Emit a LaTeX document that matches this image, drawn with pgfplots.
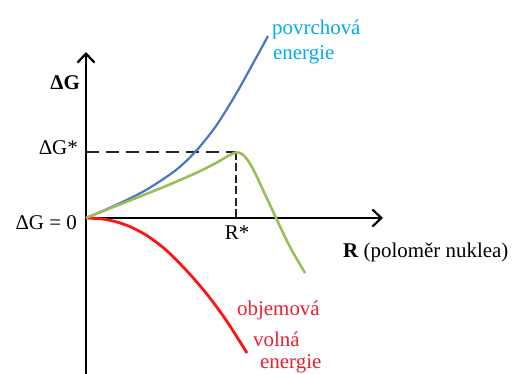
\documentclass[border=0pt]{standalone}
\usepackage{pgfplots}
\pgfplotsset{compat=1.18}
\usepackage{fontspec}
\setmainfont{Liberation Serif}
\usetikzlibrary{arrows.meta}

\definecolor{surfblue}{RGB}{72,118,196}
\definecolor{surftext}{RGB}{0,172,236}
\definecolor{volred}{RGB}{255,20,20}
\definecolor{voltext}{RGB}{235,30,50}
\definecolor{totgreen}{RGB}{155,190,90}

\tikzset{lbl/.style={font=\fontsize{21}{25}\selectfont, inner sep=0pt}}

\begin{document}
\begin{tikzpicture}
\useasboundingbox (0,0) rectangle (519bp,374bp);
\begin{axis}[
  at={(0,0)}, anchor=south west,
  scale only axis, width=519bp, height=374bp,
  xmin=-86, xmax=433, ymin=-156, ymax=218,
  hide axis, clip=false,
]
% coordinate axes
\draw[line width=2.2bp, -{Straight Barb[length=9bp,width=17bp,line width=2.2bp]}]
  (axis cs:0,-160) -- (axis cs:0,166);
\draw[line width=2.2bp, -{Straight Barb[length=9bp,width=17bp,line width=2.2bp]}]
  (axis cs:0,0) -- (axis cs:297,0);

% critical values
\addplot[black!85, line width=1.6bp, dash pattern=on 13bp off 7bp]
  coordinates {(0,66) (150,66)};
\addplot[black!85, line width=2.8bp, dash pattern=on 8bp off 3.5bp]
  coordinates {(150,66) (150,0)};

% surface energy
\addplot[surfblue, line width=2.2bp, smooth] coordinates {
  (0,0) (30,13) (60,28) (90,48) (110,67) (130,92) (150,124) (170,160) (182,182)};
% volume free energy
\addplot[volred, line width=2.8bp, smooth] coordinates {
  (0,0) (20,-1.5) (40,-7) (60,-17) (80,-32) (100,-52) (120,-75) (140,-102) (161,-135)};
% total
\addplot[totgreen, line width=2.6bp, smooth] coordinates {
  (0,0) (40,16) (80,32) (110,45) (130,55) (142,62) (150,65.5) (156,64)
  (163,56) (170,43) (177,28) (184,13) (191,-2) (204,-29) (219,-55)};

% labels
\node[lbl, anchor=east] at (axis cs:-6,135) {\textbf{ΔG}};
\node[lbl, anchor=east] at (axis cs:-8,70) {ΔG*};
\node[lbl, anchor=east] at (axis cs:-9,-5) {ΔG = 0};
\node[lbl] at (axis cs:151,-15) {R*};
\node[lbl, anchor=west] at (axis cs:257,-34) {\textbf{R} (poloměr nuklea)};
\node[lbl, anchor=west, text=surftext] at (axis cs:186,189) {povrchová};
\node[lbl, anchor=west, text=surftext] at (axis cs:187,163) {energie};
\node[lbl, anchor=west, text=voltext] at (axis cs:151,-92) {objemová};
\node[lbl, anchor=west, text=voltext] at (axis cs:167,-121) {volná};
\node[lbl, anchor=west, text=voltext] at (axis cs:174,-146) {energie};
\end{axis}
\end{tikzpicture}
\end{document}
